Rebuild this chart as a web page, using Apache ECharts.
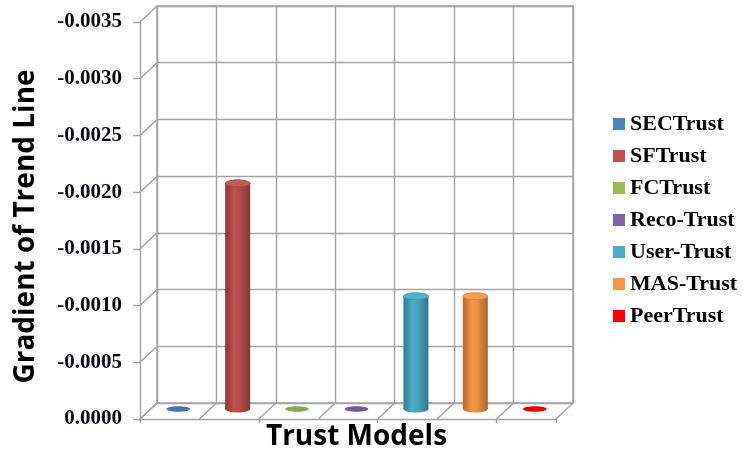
<!DOCTYPE html>
<html>
<head>
<meta charset="utf-8">
<script src="https://cdn.jsdelivr.net/npm/echarts@6/dist/echarts.min.js"></script>
<style>
  html, body { margin: 0; padding: 0; background: #ffffff; }
  #chart { width: 743px; height: 456px; }
</style>
</head>
<body>
<div id="chart"></div>
<script>
// Trust models and the gradient of each model's trend line
const models = ['SECTrust', 'SFTrust', 'FCTrust', 'Reco-Trust', 'User-Trust', 'MAS-Trust', 'PeerTrust'];
const gradients = [0, -0.0020, 0, 0, -0.0010, -0.0010, 0];
const modelColors = ['#4F81BD', '#C0504D', '#9BBB59', '#8064A2', '#4BACC6', '#F79646', '#FF0000'];

// Value axis: ticks from 0.0000 up to -0.0035 in steps of 0.0005
const yTickValues = [0, -0.0005, -0.0010, -0.0015, -0.0020, -0.0025, -0.0030, -0.0035];
const yMin = -0.0035;
const yMax = 0;
const yStep = 0.0005;

// Pseudo-3D layout: front plane, back wall, and the mid-depth plane where the cylinders stand
const PLOT_W = 416, PLOT_H = 397;
const FRONT_LEFT = 140, FRONT_TOP = 22;
const DEPTH = [17, -16];
const FRAME_COLOR = '#a3a3a3';
const FRAME_WIDTH = 1.4;
const BAR_W = 25, CAP_H = 7;
const TITLE_FONT = { fontFamily: 'Open Sans', fontWeight: 'bold', fontSize: 28, color: '#000000' };

function parseHex(hex) {
  const n = parseInt(hex.slice(1), 16);
  return [(n >> 16) & 255, (n >> 8) & 255, n & 255];
}
function shade(hex, f) {
  const c = parseHex(hex).map(v => Math.max(0, Math.min(255, Math.round(v * f))));
  return 'rgb(' + c.join(',') + ')';
}
function tint(hex, t) {
  const c = parseHex(hex).map(v => Math.round(v + (255 - v) * t));
  return 'rgb(' + c.join(',') + ')';
}

function gridAt(shiftX, shiftY) {
  return { left: FRONT_LEFT + shiftX, top: FRONT_TOP + shiftY, width: PLOT_W, height: PLOT_H, containLabel: false };
}

// Cylinder drawn from the axis baseline up to the value
function cylinderRenderer(color) {
  return function (params, api) {
    const cat = api.value(0);
    const val = api.value(1);
    const base = api.coord([cat, 0]);
    const top = api.coord([cat, val]);
    const rx = BAR_W / 2, ry = CAP_H / 2;
    const children = [];
    if (Math.abs(base[1] - top[1]) > 0.5) {
      const body = new echarts.graphic.LinearGradient(0, 0, 1, 0, [
        { offset: 0, color: shade(color, 0.70) },
        { offset: 0.35, color: shade(color, 1.0) },
        { offset: 0.6, color: shade(color, 0.94) },
        { offset: 1, color: shade(color, 0.68) }
      ]);
      children.push({
        type: 'ellipse',
        shape: { cx: base[0], cy: base[1], rx: rx, ry: ry },
        style: { fill: body }
      });
      children.push({
        type: 'rect',
        shape: { x: base[0] - rx, y: top[1], width: BAR_W, height: base[1] - top[1] },
        style: { fill: body }
      });
      children.push({
        type: 'ellipse',
        shape: { cx: top[0], cy: top[1], rx: rx, ry: ry },
        style: { fill: tint(color, 0.06), stroke: shade(color, 0.82), lineWidth: 0.7 }
      });
    } else {
      children.push({
        type: 'ellipse',
        shape: { cx: base[0], cy: base[1], rx: rx * 0.95, ry: ry * 0.8 },
        style: { fill: shade(color, 0.9) }
      });
    }
    return { type: 'group', children: children };
  };
}

// Receding edges of the side wall and the floor
function frameRenderer(params, api) {
  const band = api.size([1, 0])[0];
  const first = api.coord([0, 0]);
  const leftX = first[0] - band / 2;
  const children = [];
  yTickValues.forEach(v => {
    const p = api.coord([0, v]);
    children.push({
      type: 'line',
      shape: { x1: leftX, y1: p[1], x2: leftX + DEPTH[0], y2: p[1] + DEPTH[1] },
      style: { stroke: FRAME_COLOR, lineWidth: FRAME_WIDTH }
    });
  });
  for (let i = 0; i <= models.length; i++) {
    const x = leftX + i * band;
    children.push({
      type: 'line',
      shape: { x1: x, y1: first[1], x2: x + DEPTH[0], y2: first[1] + DEPTH[1] },
      style: { stroke: FRAME_COLOR, lineWidth: FRAME_WIDTH }
    });
  }
  return { type: 'group', children: children };
}

const valueAxisBase = { type: 'value', min: yMin, max: yMax, interval: yStep, inverse: true };
const frameLine = { lineStyle: { color: FRAME_COLOR, width: FRAME_WIDTH } };

const series = models.map((name, i) => ({
  name: name,
  type: 'custom',
  xAxisIndex: 2,
  yAxisIndex: 2,
  z: 5,
  itemStyle: { color: modelColors[i] },
  renderItem: cylinderRenderer(modelColors[i]),
  data: [[i, gradients[i]]]
}));
series.push({
  name: 'frame',
  type: 'custom',
  xAxisIndex: 0,
  yAxisIndex: 0,
  z: 2,
  silent: true,
  renderItem: frameRenderer,
  data: [[0, 0]]
});

const chart = echarts.init(document.getElementById('chart'), null, { renderer: 'canvas' });
chart.setOption({
  animation: false,
  backgroundColor: '#ffffff',
  color: modelColors,
  grid: [
    gridAt(0, 0),
    Object.assign(gridAt(DEPTH[0], DEPTH[1]), { show: true, borderColor: FRAME_COLOR, borderWidth: FRAME_WIDTH, backgroundColor: 'transparent' }),
    gridAt(DEPTH[0] / 2, DEPTH[1] / 2)
  ],
  xAxis: [
    {
      gridIndex: 0, type: 'category', data: models,
      axisLine: frameLine,
      axisTick: { show: true, length: 4, lineStyle: { color: FRAME_COLOR, width: FRAME_WIDTH } },
      axisLabel: { show: false },
      splitLine: { show: false }
    },
    {
      gridIndex: 1, type: 'category', data: models,
      axisLine: { show: false }, axisTick: { show: false }, axisLabel: { show: false },
      splitLine: { show: true, interval: 0, lineStyle: { color: FRAME_COLOR, width: FRAME_WIDTH } }
    },
    {
      gridIndex: 2, type: 'category', data: models,
      axisLine: { show: false }, axisTick: { show: false }, axisLabel: { show: false },
      splitLine: { show: false },
      name: 'Trust Models', nameLocation: 'middle', nameGap: 14,
      nameTextStyle: Object.assign({ verticalAlign: 'top' }, TITLE_FONT)
    }
  ],
  yAxis: [
    Object.assign({}, valueAxisBase, {
      gridIndex: 0,
      axisLine: { show: true, lineStyle: { color: FRAME_COLOR, width: FRAME_WIDTH } },
      axisTick: { show: true, length: 7, lineStyle: { color: FRAME_COLOR, width: FRAME_WIDTH } },
      axisLabel: {
        margin: 18,
        fontFamily: 'Liberation Serif', fontWeight: 'bold', fontSize: 21, color: '#0a0a14',
        formatter: v => v.toFixed(4)
      },
      splitLine: { show: false },
      name: 'Gradient of Trend Line', nameLocation: 'middle', nameGap: 100, nameRotate: 90,
      nameTextStyle: Object.assign({ padding: [0, 12, 0, 0] }, TITLE_FONT)
    }),
    Object.assign({}, valueAxisBase, {
      gridIndex: 1,
      axisLine: { show: false }, axisTick: { show: false }, axisLabel: { show: false },
      splitLine: { show: true, lineStyle: { color: FRAME_COLOR, width: FRAME_WIDTH } }
    }),
    Object.assign({}, valueAxisBase, {
      gridIndex: 2, show: false
    })
  ],
  legend: {
    data: models,
    orient: 'vertical',
    left: 608,
    top: 108,
    icon: 'rect',
    itemWidth: 12,
    itemHeight: 12,
    itemGap: 10,
    textStyle: { fontFamily: 'Liberation Serif', fontWeight: 'bold', fontSize: 22, color: '#000000' },
    selectedMode: false
  },
  series: series
});
</script>
</body>
</html>
